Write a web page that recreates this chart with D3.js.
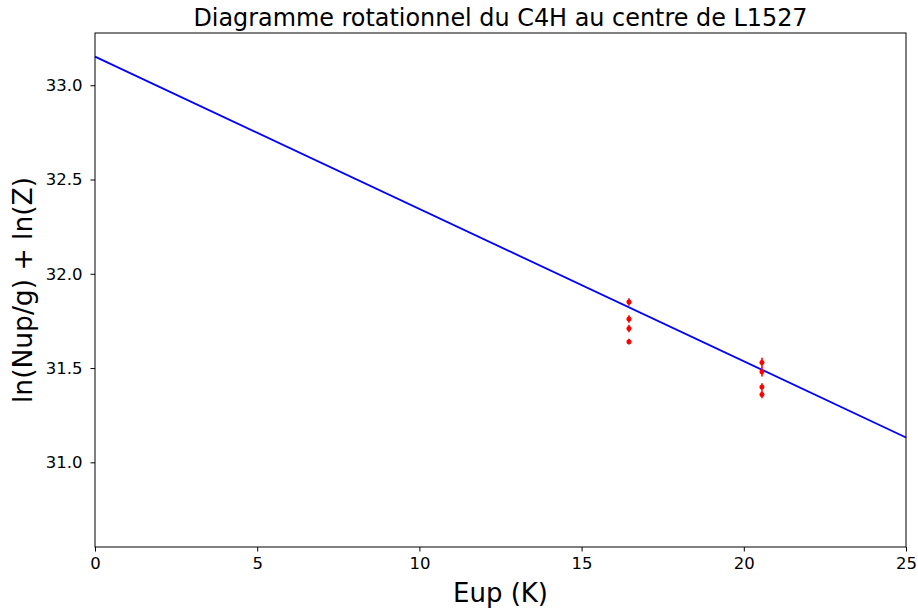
<!DOCTYPE html>
<html>
<head>
<meta charset="utf-8">
<script src="https://cdn.jsdelivr.net/npm/d3@7"></script>
<style>
  body { margin: 0; background: #fff; }
  text { font-family: "DejaVu Sans", sans-serif; fill: #000; }
</style>
</head>
<body>
<div id="chart"></div>
<script>
// measured points (Eup in K, ln(Nup/g) + ln(Z))
const eupValues = [16.46, 16.46, 16.46, 16.46, 20.56, 20.56, 20.56, 20.56];
const lnValues = [31.85, 31.76, 31.71, 31.64, 31.53, 31.48, 31.40, 31.36];
const errValues = [0.02, 0.02, 0.02, 0.015, 0.025, 0.025, 0.02, 0.02];

// fitted straight line
const fitIntercept = 33.152;
const fitSlope = -0.0808;
const fitRange = [0, 25];

const xTicks = [0, 5, 10, 15, 20, 25];
const yTicks = [31.0, 31.5, 32.0, 32.5, 33.0];

const width = 918, height = 609;
const margin = { top: 33, right: 12, bottom: 62, left: 95 };
const innerW = width - margin.left - margin.right;
const innerH = height - margin.top - margin.bottom;

const svg = d3.select('#chart').append('svg')
  .attr('width', width)
  .attr('height', height);

const x = d3.scaleLinear().domain([0, 25]).range([0, innerW]);
const y = d3.scaleLinear().domain([30.551, 33.277]).range([innerH, 0]);

const g = svg.append('g').attr('transform', `translate(${margin.left},${margin.top})`);

// fit line
const line = d3.line().x(d => x(d)).y(d => y(fitIntercept + fitSlope * d));
g.append('path')
  .datum(fitRange)
  .attr('d', line)
  .attr('fill', 'none')
  .attr('stroke', '#0000ff')
  .attr('stroke-width', 1.8);

// error bars + points
const pts = eupValues.map((e, i) => ({ x: e, y: lnValues[i], err: errValues[i] }));
g.selectAll('line.err')
  .data(pts)
  .join('line')
  .attr('class', 'err')
  .attr('x1', d => x(d.x)).attr('x2', d => x(d.x))
  .attr('y1', d => y(d.y - d.err)).attr('y2', d => y(d.y + d.err))
  .attr('stroke', '#ff0000')
  .attr('stroke-width', 1.6);
g.selectAll('circle.pt')
  .data(pts)
  .join('circle')
  .attr('class', 'pt')
  .attr('cx', d => x(d.x))
  .attr('cy', d => y(d.y))
  .attr('r', 2.5)
  .attr('fill', '#ff0000');

// axes
const xAxis = g.append('g')
  .attr('transform', `translate(0,${innerH})`)
  .call(d3.axisBottom(x).tickValues(xTicks).tickFormat(d3.format('d')).tickSize(4.5).tickPadding(5.5));
const yAxis = g.append('g')
  .call(d3.axisLeft(y).tickValues(yTicks).tickFormat(d3.format('.1f')).tickSize(4.5).tickPadding(8));
[xAxis, yAxis].forEach(a => {
  a.select('.domain').remove();
  a.selectAll('text').style('font-family', '"DejaVu Sans", sans-serif').style('font-size', '16.5px').attr('fill', '#000');
  a.selectAll('line').attr('stroke', '#000').attr('stroke-width', 1);
});

// frame
g.append('rect')
  .attr('width', innerW).attr('height', innerH)
  .attr('fill', 'none')
  .attr('stroke', '#000')
  .attr('stroke-width', 1);

// title and labels
svg.append('text')
  .attr('x', margin.left + innerW / 2)
  .attr('y', 26)
  .attr('text-anchor', 'middle')
  .style('font-size', '23.9px')
  .text('Diagramme rotationnel du C4H au centre de L1527');

svg.append('text')
  .attr('x', margin.left + innerW / 2)
  .attr('y', 602)
  .attr('text-anchor', 'middle')
  .style('font-size', '26px')
  .text('Eup (K)');

svg.append('text')
  .attr('transform', `translate(32,${margin.top + innerH / 2}) rotate(-90)`)
  .attr('text-anchor', 'middle')
  .style('font-size', '26.5px')
  .text('ln(Nup/g) + ln(Z)');
</script>
</body>
</html>
